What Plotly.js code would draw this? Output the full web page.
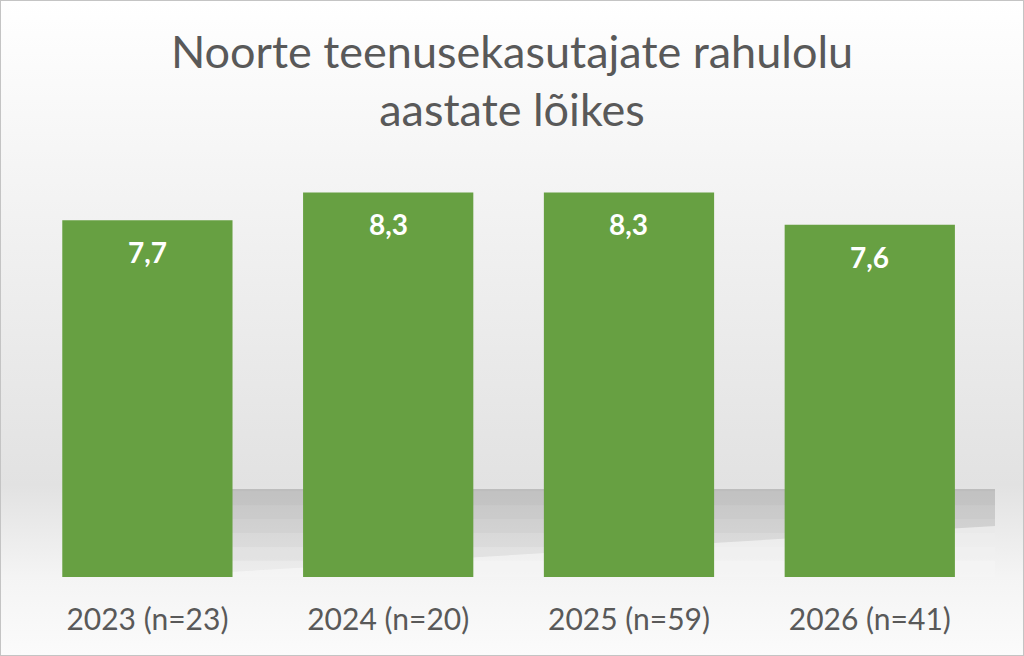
<!DOCTYPE html>
<html>
<head>
<meta charset="utf-8">
<script src="https://cdn.plot.ly/plotly-3.0.1.min.js"></script>
<style>
  html, body { margin: 0; padding: 0; }
  body { width: 1024px; height: 656px; overflow: hidden; }
  #chart {
    width: 1024px; height: 656px; box-sizing: border-box;
    border: 1px solid #c4c4c4;
    background: linear-gradient(to bottom, #ffffff 0%, #f3f3f3 30%, #e2e2e2 74%, #f4f4f4 88%, #fbfbfb 100%);
  }
</style>
</head>
<body>
<div id="chart"></div>
<script>
const titleText = "Noorte teenusekasutajate rahulolu<br>aastate lõikes";
const categories = ["2023 (n=23)", "2024 (n=20)", "2025 (n=59)", "2026 (n=41)"];
const satisfaction = [7.7, 8.3, 8.3, 7.6];

const trace = {
  type: "bar",
  x: categories,
  y: satisfaction,
  marker: { color: "#67a042", line: { width: 0 } },
  hoverinfo: "skip"
};

const annotations = categories.map((c, i) => ({
  x: c, y: satisfaction[i], xref: "x", yref: "y",
  text: "<b>" + satisfaction[i].toFixed(1).replace(".", ",") + "</b>",
  showarrow: false, yanchor: "top", yshift: -13,
  font: { family: "Lato, 'Open Sans', sans-serif", size: 28, color: "#ffffff" }
}));

// soft shadow band behind the bars (stacked translucent layers = vertical fade)
const shadowTops = [1.85, 1.55, 1.25, 0.95, 0.65, 0.35, 0.0];
const shapes = shadowTops.map(y0 => ({
  type: "rect", layer: "below", xref: "x", yref: "y",
  x0: 0, x1: 3.52, y0: y0, y1: 1.9,
  fillcolor: "rgba(90,90,90,0.045)", line: { width: 0 }
}));
shapes.push({ type: "path", layer: "below", xref: "x", yref: "y",
  path: "M 0,0 L 3.52,1.1 L 3.52,0 Z",
  fillcolor: "rgba(250,250,250,0.6)", line: { width: 0 } });

const layout = {
  width: 1022, height: 654,
  paper_bgcolor: "rgba(0,0,0,0)",
  plot_bgcolor: "rgba(0,0,0,0)",
  margin: { l: 26, r: 28, t: 159, b: 78 },
  showlegend: false,
  bargap: 0.293,
  separators: ", ",
  title: {
    text: titleText,
    x: 0.5, xanchor: "center",
    y: 0.898, yanchor: "middle",
    font: { family: "Lato, 'Open Sans', sans-serif", size: 45, color: "#595959" }
  },
  xaxis: {
    showgrid: false, zeroline: false, showline: false, ticks: "",
    ticklabelstandoff: 22,
    tickfont: { family: "Lato, 'Open Sans', sans-serif", size: 30, color: "#595959" },
    fixedrange: true
  },
  yaxis: {
    range: [0, 9], visible: false, showgrid: false, zeroline: false, fixedrange: true
  },
  annotations: annotations,
  shapes: shapes
};

Plotly.newPlot("chart", [trace], layout, { displayModeBar: false, staticPlot: true });
</script>
</body>
</html>
